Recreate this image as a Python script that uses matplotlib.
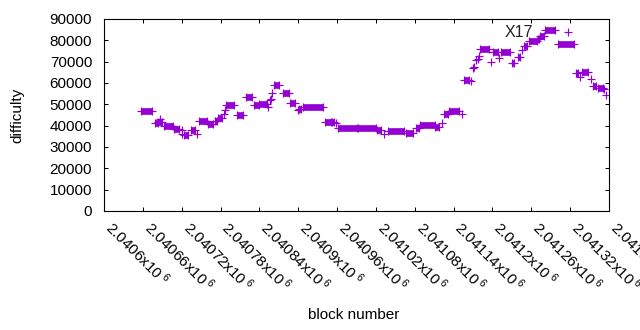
import matplotlib
matplotlib.use("Agg")
import matplotlib.pyplot as plt
import numpy as np

plt.rcParams['font.family'] = ['Liberation Sans', 'DejaVu Sans']
plt.rcParams['mathtext.fontset'] = 'custom'
plt.rcParams['mathtext.rm'] = 'Liberation Sans'
plt.rcParams['mathtext.it'] = 'Liberation Sans:italic'

# runs of consecutive blocks sharing the same difficulty
run_start = [2040657, 2040678, 2040684, 2040693, 2040708, 2040723, 2040734, 2040747,
             2040760, 2040771, 2040776, 2040789, 2040805, 2040819, 2040831, 2040840,
             2040862, 2040876, 2040888, 2040901, 2040907, 2040941, 2040952, 2040961,
             2040992, 2041021, 2041038, 2041066, 2041082, 2041088, 2041112, 2041125,
             2041133, 2041156, 2041181, 2041201, 2041213, 2041230, 2041239, 2041248,
             2041256, 2041270, 2041273, 2041281, 2041301, 2041329, 2041338, 2041355,
             2041363]
run_end = [2040674, 2040683, 2040689, 2040707, 2040716, 2040730, 2040741, 2040759,
           2040769, 2040774, 2040783, 2040801, 2040815, 2040829, 2040839, 2040852,
           2040871, 2040886, 2040895, 2040905, 2040938, 2040951, 2040956, 2040991,
           2041020, 2041028, 2041063, 2041078, 2041087, 2041111, 2041117, 2041131,
           2041148, 2041164, 2041194, 2041209, 2041227, 2041233, 2041243, 2041253,
           2041269, 2041272, 2041279, 2041296, 2041326, 2041332, 2041347, 2041360,
           2041370]
run_difficulty = [46700, 41100, 41700, 40000, 38300, 35500, 38200, 42300,
                  40800, 42000, 43800, 49500, 45000, 53600, 49500, 50100,
                  59000, 55200, 50500, 47700, 48900, 41900, 41500, 39100,
                  38700, 37800, 37500, 36400, 39000, 40300, 39500, 45400,
                  47000, 61400, 76100, 74600, 74300, 69200, 72000, 77300,
                  79500, 80800, 82000, 84700, 78200, 64800, 65200, 58400,
                  57800]

# isolated blocks
single_block = [2040687, 2040720, 2040721, 2040744, 2040785, 2040787, 2040854,
                2040857, 2040858, 2040860, 2040899, 2040958, 2041032, 2041122,
                2041153, 2041167, 2041170, 2041172, 2041174, 2041178, 2041179,
                2041198, 2041210, 2041246, 2041316, 2041335, 2041352, 2041373,
                2041375]
single_difficulty = [43000, 38000, 36100, 36300, 45500, 47300, 48600,
                     52000, 52500, 55500, 47300, 41400, 36300, 41100,
                     45300, 60900, 66900, 67500, 71000, 71300, 72500,
                     70000, 71600, 75500, 83700, 62800, 61900, 57200,
                     54400]

xtick_values = [2040600, 2040660, 2040720, 2040780, 2040840, 2040900, 2040960,
                2041020, 2041080, 2041140, 2041200, 2041260, 2041320, 2041380]
xtick_labels = ['2.0406', '2.04066', '2.04072', '2.04078', '2.04084', '2.0409',
                '2.04096', '2.04102', '2.04108', '2.04114', '2.0412', '2.04126',
                '2.04132', '2.04138']
ytick_values = [0, 10000, 20000, 30000, 40000, 50000, 60000, 70000, 80000, 90000]

label_text = 'X17'
label_pos = (2041262, 83900)

color = '#9400d3'

fig = plt.figure(figsize=(6.4, 3.3), dpi=100)
ax = fig.add_axes([104 / 640, (330 - 211) / 330, (609 - 104) / 640, (211 - 19) / 330])

ax.hlines(run_difficulty, run_start, run_end, colors=color, linewidth=4.8,
          capstyle='butt')
ax.plot(run_start + run_end, run_difficulty + run_difficulty, '+', color=color,
        ms=5.4, mew=0.85, linestyle='none')
ax.plot(single_block, single_difficulty, '+', color=color, ms=5.4, mew=0.85,
        linestyle='none')

ax.text(label_pos[0], label_pos[1], label_text, ha='right', va='center',
        fontsize=11.5, color='#222222')

ax.set_xlim(2040600, 2041380)
ax.set_ylim(0, 90000)
ax.set_xticks(xtick_values)
ax.set_xticklabels([l + r'x10$^{\ 6}$' for l in xtick_labels])
ax.set_yticks(ytick_values)
ax.set_yticklabels([str(v) for v in ytick_values])

ax.tick_params(axis='both', direction='in', length=3.2, width=0.72,
               top=True, right=True, labelsize=11, colors='black')
ax.tick_params(axis='x', pad=13)
ax.tick_params(axis='y', pad=8.5)
for lbl in ax.get_xticklabels():
    lbl.set_rotation(-45)
    lbl.set_ha('left')
    lbl.set_va('baseline')
    lbl.set_rotation_mode('anchor')

for s in ax.spines.values():
    s.set_linewidth(0.8)
    s.set_color('black')

fig.text(17 / 640, 1 - 115 / 330, 'difficulty', rotation=90, ha='center',
         va='center', fontsize=11)
fig.text(354 / 640, 1 - 315 / 330, 'block number', ha='center', va='center',
         fontsize=11)

fig.savefig('out.png', dpi=100)
